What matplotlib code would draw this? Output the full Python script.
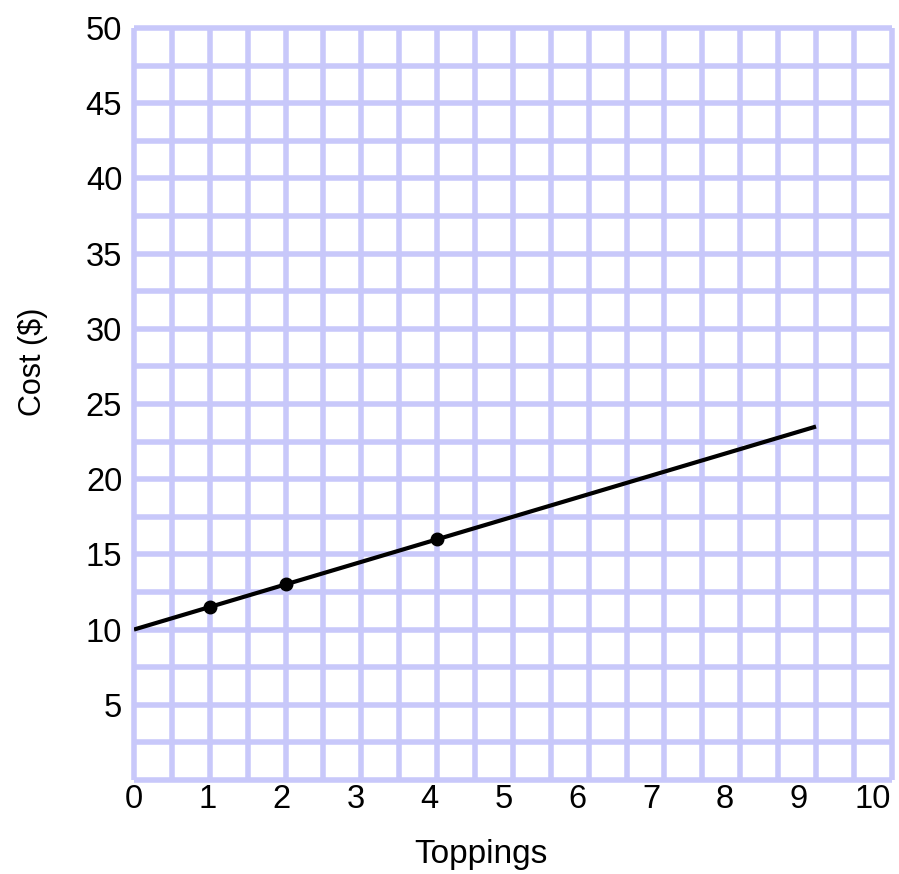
import numpy as np
import matplotlib.pyplot as plt

plt.rcParams['font.family'] = ['Liberation Sans', 'DejaVu Sans']

# data
toppings = [1, 2, 4]
cost = [11.5, 13, 16]
line_x = [0, 9]
line_y = [10, 23.5]
x_labels = [str(i) for i in range(11)]
y_labels = [str(v) for v in range(5, 55, 5)]

fig = plt.figure(figsize=(8.99, 8.74), dpi=100)
ax = fig.add_axes([0.149, 0.1076, 0.843, 0.8604])
ax.set_xlim(0, 10)
ax.set_ylim(0, 50)

# graph paper
grid_col = '#c8c8fa'
ax.vlines(np.arange(0, 10.01, 0.5), 0, 50, color=grid_col, lw=4, clip_on=False, zorder=1)
ax.hlines(np.arange(0, 50.01, 2.5), 0, 10, color=grid_col, lw=4, clip_on=False, zorder=1)

ax.plot(line_x, line_y, color='black', lw=3, solid_capstyle='butt', zorder=3)
ax.plot(toppings, cost, 'o', color='black', ms=9, zorder=4)

# tick labels sit slightly compressed in the original
ax.set_xticks(np.arange(11) * 0.975)
ax.set_xticklabels(x_labels)
ax.set_yticks(np.arange(5, 55, 5))
ax.set_yticklabels(y_labels)
ax.tick_params(axis='x', length=0, labelsize=23.5, pad=3)
ax.tick_params(axis='y', length=0, labelsize=23.5, pad=8.5)
for s in ax.spines.values():
    s.set_visible(False)

ax.set_xlabel('Toppings', fontsize=24)
ax.set_ylabel('Cost ($)', fontsize=22)
ax.xaxis.set_label_coords(0.458, -0.078)
ax.yaxis.set_label_coords(-0.113, 0.556)

fig.savefig('out.png', dpi=100)
